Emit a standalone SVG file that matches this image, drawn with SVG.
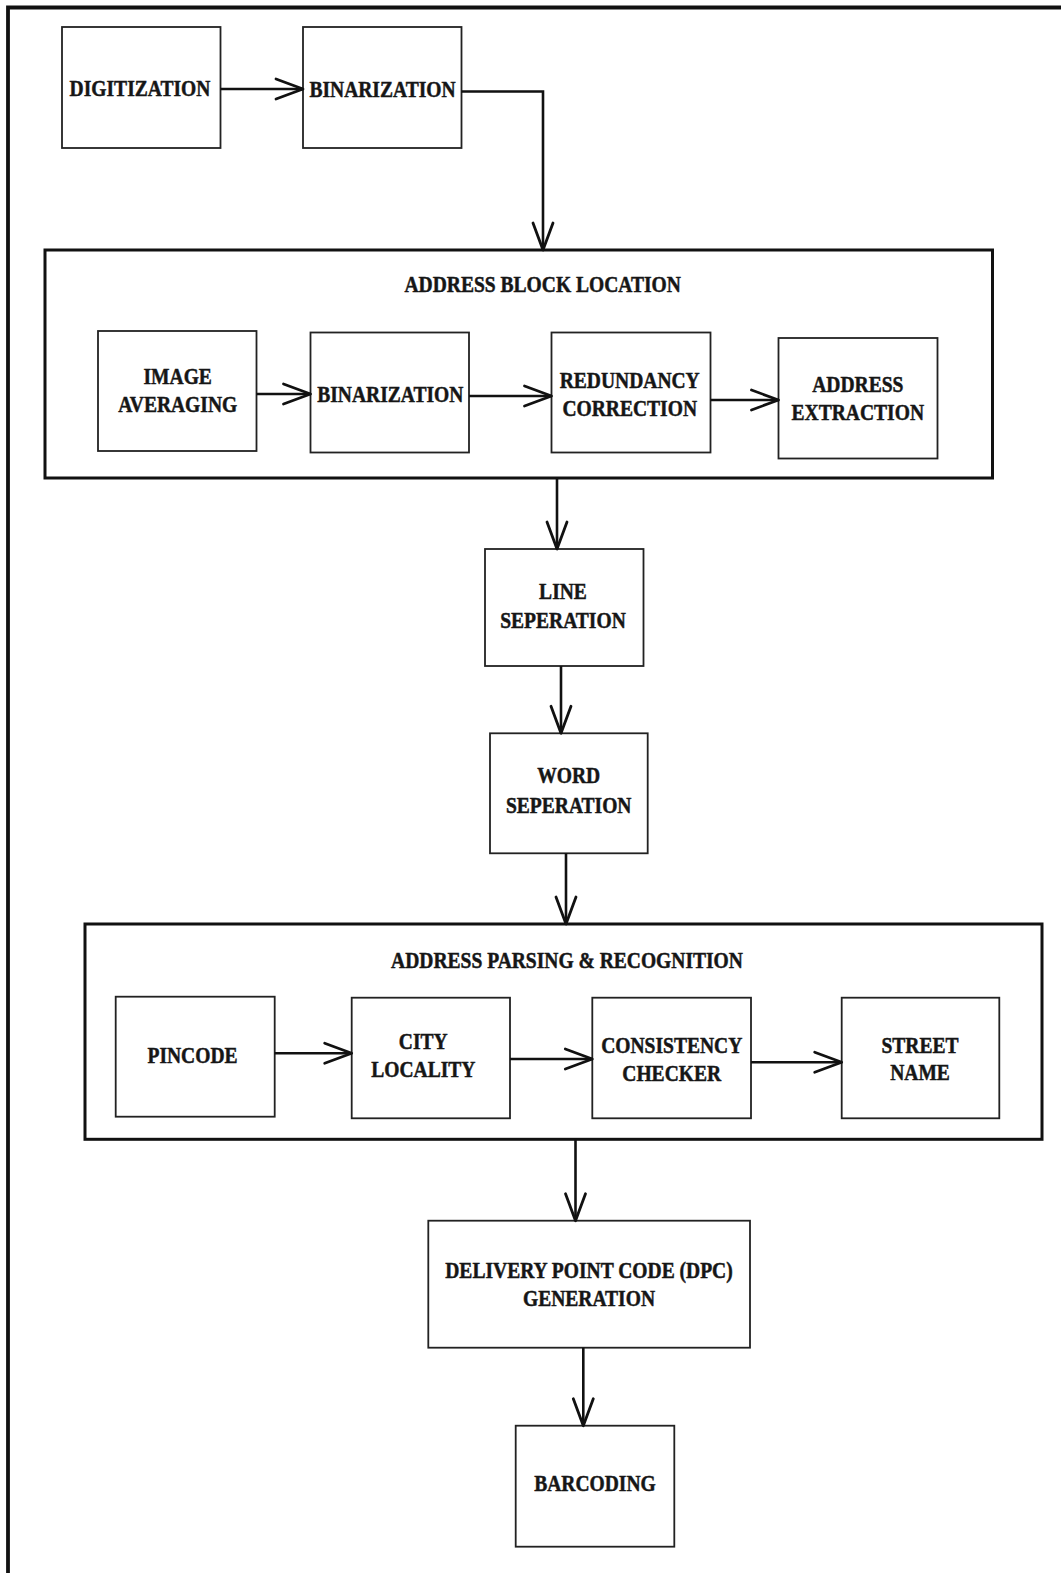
<svg xmlns="http://www.w3.org/2000/svg" width="1061" height="1573" viewBox="0 0 1061 1573">
  <defs>
    <style>
      .frame { fill: none; stroke: #111; stroke-width: 3.8; }
      .box { fill: #fff; stroke: #222; stroke-width: 1.8; }
      .group { fill: #fff; stroke: #111; stroke-width: 3; }
      .wire { fill: none; stroke: #111; stroke-width: 2.6; }
      .lbl { font-family: "Liberation Serif", "Times New Roman", serif; font-weight: bold; font-size: 23px; fill: #161616; stroke: #161616; stroke-width: 0.5; text-anchor: middle; }
    </style>
    <!-- open V arrowhead -->
    <marker id="arrow" viewBox="-30 -12 32 24" refX="0" refY="0" markerWidth="32" markerHeight="24" markerUnits="userSpaceOnUse" orient="auto" overflow="visible">
      <path d="M-27,-10 L0,0 L-27,10" fill="none" stroke="#111" stroke-width="2.8" stroke-linecap="round" stroke-linejoin="round"/>
    </marker>
  </defs>

  <rect width="1061" height="1573" fill="#fff"/>

  <!-- page frame: top and left edges -->
  <path class="frame" d="M8,1573 V7.5 H1061"/>

  <!-- containers -->
  <g id="address-block-location">
    <rect class="group" x="45" y="250" width="947.5" height="228"/>
    <text class="lbl" transform="translate(542.7 0) scale(0.85 1)" x="0" y="292">ADDRESS BLOCK LOCATION</text>
  </g>
  <g id="address-parsing-recognition">
    <rect class="group" x="85" y="924" width="957" height="215.3"/>
    <text class="lbl" transform="translate(567 0) scale(0.85 1)" x="0" y="968.3">ADDRESS PARSING &amp; RECOGNITION</text>
  </g>

  <!-- nodes -->
  <g id="digitization">
    <rect class="box" x="62" y="27" width="158.5" height="121"/>
    <text class="lbl" transform="translate(140 0) scale(0.85 1)" x="0" y="96.5">DIGITIZATION</text>
  </g>
  <g id="binarization-1">
    <rect class="box" x="303" y="27" width="158.5" height="121"/>
    <text class="lbl" transform="translate(382.5 0) scale(0.85 1)" x="0" y="97">BINARIZATION</text>
  </g>
  <g id="image-averaging">
    <rect class="box" x="98" y="331" width="158.5" height="120"/>
    <text class="lbl" transform="translate(177.7 0) scale(0.85 1)"><tspan x="0" y="384">IMAGE</tspan><tspan x="0" y="412">AVERAGING</tspan></text>
  </g>
  <g id="binarization-2">
    <rect class="box" x="310.5" y="332.5" width="158.5" height="120"/>
    <text class="lbl" transform="translate(390.3 0) scale(0.85 1)" x="0" y="402">BINARIZATION</text>
  </g>
  <g id="redundancy-correction">
    <rect class="box" x="551.5" y="332.5" width="159" height="120"/>
    <text class="lbl" transform="translate(629.7 0) scale(0.85 1)"><tspan x="0" y="388">REDUNDANCY</tspan><tspan x="0" y="416.5">CORRECTION</tspan></text>
  </g>
  <g id="address-extraction">
    <rect class="box" x="778.5" y="338" width="159" height="120.5"/>
    <text class="lbl" transform="translate(857.8 0) scale(0.85 1)"><tspan x="0" y="392">ADDRESS</tspan><tspan x="0" y="420">EXTRACTION</tspan></text>
  </g>
  <g id="line-seperation">
    <rect class="box" x="485" y="549" width="158.5" height="117"/>
    <text class="lbl" transform="translate(563 0) scale(0.85 1)"><tspan x="0" y="599.5">LINE</tspan><tspan x="0" y="628">SEPERATION</tspan></text>
  </g>
  <g id="word-seperation">
    <rect class="box" x="490" y="733.3" width="157.7" height="120"/>
    <text class="lbl" transform="translate(568.7 0) scale(0.85 1)"><tspan x="0" y="783.5">WORD</tspan><tspan x="0" y="813">SEPERATION</tspan></text>
  </g>
  <g id="pincode">
    <rect class="box" x="115.7" y="996.7" width="159" height="120"/>
    <text class="lbl" transform="translate(192.5 0) scale(0.85 1)" x="0" y="1063.3">PINCODE</text>
  </g>
  <g id="city-locality">
    <rect class="box" x="351.7" y="997.7" width="158.3" height="120.6"/>
    <text class="lbl" transform="translate(423.3 0) scale(0.85 1)"><tspan x="0" y="1049.3">CITY</tspan><tspan x="0" y="1077.3">LOCALITY</tspan></text>
  </g>
  <g id="consistency-checker">
    <rect class="box" x="592.3" y="997.7" width="158.7" height="120.6"/>
    <text class="lbl" transform="translate(671.7 0) scale(0.85 1)"><tspan x="0" y="1053.3">CONSISTENCY</tspan><tspan x="0" y="1080.7">CHECKER</tspan></text>
  </g>
  <g id="street-name">
    <rect class="box" x="841.7" y="997.7" width="157.6" height="120.6"/>
    <text class="lbl" transform="translate(920 0) scale(0.85 1)"><tspan x="0" y="1052.7">STREET</tspan><tspan x="0" y="1080">NAME</tspan></text>
  </g>
  <g id="dpc-generation">
    <rect class="box" x="428.3" y="1220.7" width="321.7" height="127"/>
    <text class="lbl" transform="translate(589 0) scale(0.85 1)"><tspan x="0" y="1278.3">DELIVERY POINT CODE (DPC)</tspan><tspan x="0" y="1305.7">GENERATION</tspan></text>
  </g>
  <g id="barcoding">
    <rect class="box" x="515.7" y="1425.7" width="158.6" height="121"/>
    <text class="lbl" transform="translate(595 0) scale(0.85 1)" x="0" y="1491">BARCODING</text>
  </g>

  <!-- connectors -->
  <g id="connectors" class="wire" marker-end="url(#arrow)">
    <path d="M220.5,89 H303"/>
    <path d="M461.5,91.5 H543 V250"/>
    <path d="M256.5,394 H310.5"/>
    <path d="M469,396 H551.5"/>
    <path d="M710.5,400 H778.5"/>
    <path d="M557,478 V549"/>
    <path d="M561,666 V733.3"/>
    <path d="M566,853.3 V924"/>
    <path d="M274.7,1053.3 H351.7"/>
    <path d="M510,1059 H592.3"/>
    <path d="M751,1062.3 H841.7"/>
    <path d="M575.5,1139.3 V1220.7"/>
    <path d="M583.3,1347.7 V1425.7"/>
  </g>
</svg>
